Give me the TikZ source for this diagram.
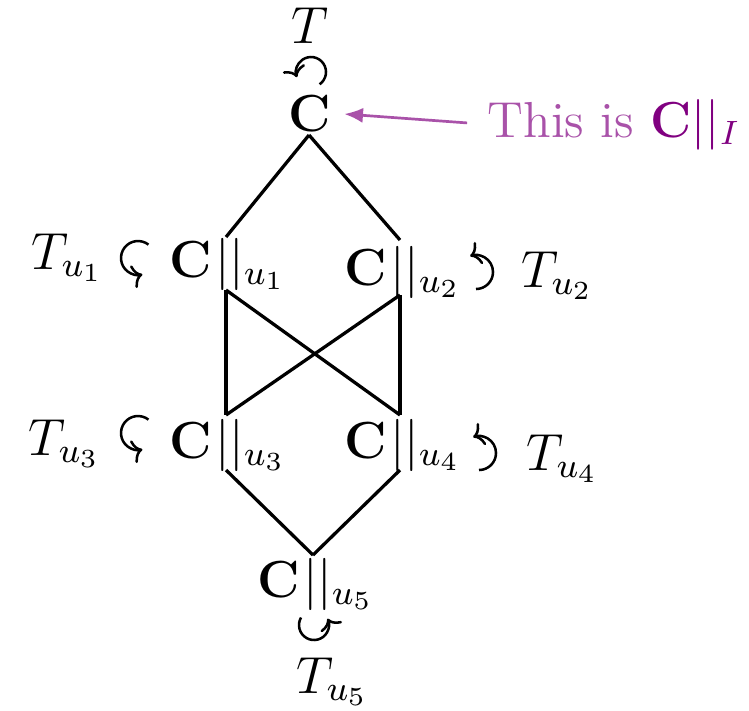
\documentclass[tikz,border=0pt]{standalone}
\usetikzlibrary{arrows.meta}
\definecolor{dpurple}{RGB}{128,0,128}
\colorlet{lpurple}{dpurple!68}
\begin{document}
\begin{tikzpicture}[x=0.23pt,y=-0.23pt,
  lbl/.style={inner sep=0pt,anchor=base west,font=\large},
  edge/.style={line width=0.75pt},
  rot/.style={line width=0.58pt,-{To[length=2.3pt,width=5.4pt]}},
  pointer/.style={line width=0.62pt,draw=lpurple,-{Latex[length=4.3pt,width=3.5pt]}}]
\useasboundingbox (0,0) rectangle (749,710);
% labels
\node[lbl] (t0) at (291,43) {$T$};
\node[lbl] (c0) at (288,131) {$\mathbf{C}$};
\node[lbl] (t1) at (31,269) {$T_{u_1}$};
\node[lbl] (n1) at (169,277) {$\mathbf{C}\mkern1mu||_{u_1}$};
\node[lbl] (n2) at (344,285) {$\mathbf{C}\mkern1mu||_{u_2}$};
\node[lbl] (t2) at (521,287) {$T_{u_2}$};
\node[lbl] (t3) at (28,455) {$T_{u_3}$};
\node[lbl] (n3) at (169,458) {$\mathbf{C}\mkern1mu||_{u_3}$};
\node[lbl] (n4) at (344,458) {$\mathbf{C}\mkern1mu||_{u_4}$};
\node[lbl] (t4) at (526,470) {$T_{u_4}$};
\node[lbl] (n5) at (257,597) {$\mathbf{C}\mkern1mu||_{u_5}$};
\node[lbl] (t5) at (296,693) {$T_{u_5}$};
\node[lbl,scale=0.97] (lab) at (487,137) {\textcolor{lpurple}{This is} $\color{dpurple}\mathbf{C}||_I$};
% connector ends at the bars
\coordinate (c0b) at (309,135);
\coordinate (n1t) at (226,237); \coordinate (n1b) at (226,290);
\coordinate (n2t) at (400,240); \coordinate (n2b) at (400,295);
\coordinate (n3t) at (226,415); \coordinate (n3b) at (226,470);
\coordinate (n4t) at (400,415); \coordinate (n4b) at (400,470);
\coordinate (n5t) at (313,555);
% edges
\draw[edge] (c0b) -- (n1t);
\draw[edge] (c0b) -- (n2t);
\draw[edge] (n1b) -- (n3t);
\draw[edge] (n1b) -- (n4t);
\draw[edge] (n2b) -- (n3t);
\draw[edge] (n2b) -- (n4t);
\draw[edge] (n3b) -- (n5t);
\draw[edge] (n4b) -- (n5t);
% action arrows
\draw[rot] (311,72) ++(55:15) arc[start angle=55,end angle=-200,radius=15];
\draw[rot] (138,258) ++(-52:17) arc[start angle=-52,end angle=-285,radius=17];
\draw[rot] (476,272) ++(-270:17) arc[start angle=-270,end angle=-470,radius=17];
\draw[rot] (138,433) ++(-52:17) arc[start angle=-52,end angle=-285,radius=17];
\draw[rot] (479,453) ++(-270:17) arc[start angle=-270,end angle=-470,radius=17];
\draw[rot] (314,625) ++(-150:15) arc[start angle=-150,end angle=-385,radius=15];
% pointer
\draw[pointer,shorten <=4.6pt,shorten >=2.8pt] (lab.west) -- (c0.east);
\end{tikzpicture}
\end{document}
